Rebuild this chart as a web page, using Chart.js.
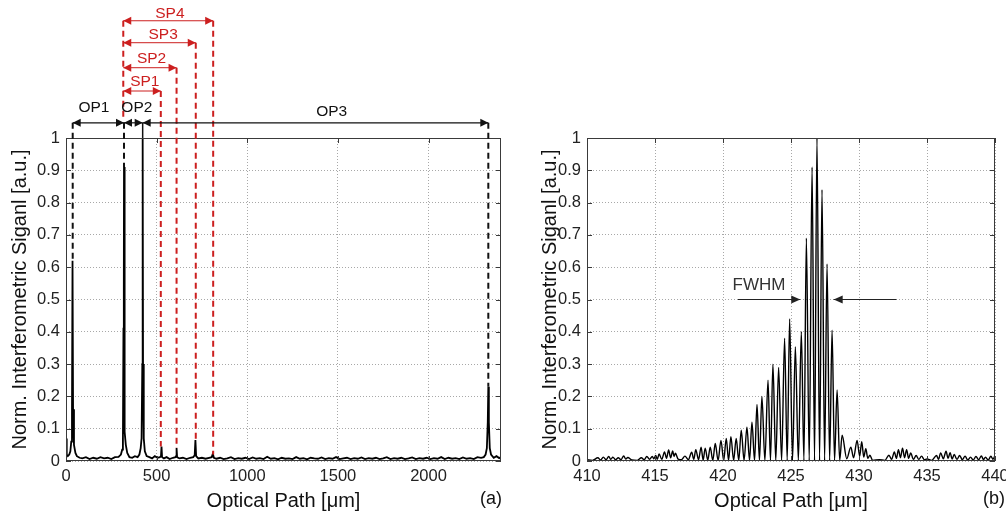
<!DOCTYPE html>
<html><head><meta charset="utf-8">
<script src="https://cdn.jsdelivr.net/npm/chart.js@4/dist/chart.umd.min.js"></script>
<style>
html,body{margin:0;padding:0;background:#fff;width:1006px;height:517px;overflow:hidden}
#ca{position:absolute;left:0;top:0}
#cb{position:absolute;left:520px;top:0}
</style></head><body>
<canvas id="ca" width="520" height="517"></canvas>
<canvas id="cb" width="486" height="517"></canvas>
<script>
// ---------- DATA ----------
const leftX = [
0,4,10,18,24,29,33,36,39,44,
52,60,75,90,110,130,150,170,190,210,
230,250,270,290,303,310,314,317,319,320,
322,325,330,338,350,365,380,395,405,412,
417,421,423,425,429,435,445,460,475,490,
505,518,524,527,530,540,555,572,590,604,
607,610,613,625,645,665,685,702,710,714,
718,730,750,770,790,804,810,816,830,850,
870,890,910,930,950,970,990,1010,1030,1050,
1070,1090,1110,1130,1150,1170,1190,1210,1230,1250,
1270,1290,1310,1330,1350,1370,1390,1410,1430,1450,
1470,1490,1510,1530,1550,1570,1590,1610,1630,1650,
1670,1690,1710,1730,1750,1770,1790,1810,1830,1850,
1870,1890,1910,1930,1950,1970,1990,2010,2030,2050,
2070,2090,2110,2130,2150,2170,2190,2210,2230,2250,
2270,2290,2305,2315,2322,2327,2330,2333,2338,2345,
2360,2375,2390,2400];
const leftY = [
0.07,0.02,0.015,0.02,0.03,0.06,0.15,0.62,0.16,0.05,
0.025,0.015,0.01,0.008,0.012,0.006,0.01,0.007,0.012,0.008,
0.01,0.006,0.012,0.013,0.02,0.035,0.06,0.41,0.53,0.91,
0.5,0.09,0.05,0.025,0.012,0.01,0.015,0.012,0.02,0.04,
0.07,0.3,1.0,0.3,0.07,0.03,0.015,0.012,0.008,0.015,
0.01,0.012,0.015,0.045,0.012,0.008,0.012,0.006,0.01,0.012,
0.015,0.04,0.012,0.008,0.01,0.006,0.01,0.012,0.018,0.065,
0.015,0.008,0.01,0.007,0.01,0.012,0.022,0.01,0.007,0.01,
0.006,0.008,0.012,0.006,0.009,0.007,0.01,0.006,0.011,0.007,
0.009,0.006,0.013,0.007,0.009,0.005,0.01,0.007,0.008,0.006,
0.012,0.007,0.009,0.005,0.01,0.008,0.007,0.011,0.006,0.009,
0.007,0.012,0.006,0.008,0.01,0.006,0.009,0.007,0.011,0.006,
0.009,0.007,0.01,0.006,0.008,0.012,0.006,0.009,0.007,0.01,
0.006,0.008,0.011,0.006,0.009,0.007,0.01,0.006,0.009,0.007,
0.012,0.006,0.01,0.007,0.009,0.006,0.011,0.007,0.009,0.006,
0.012,0.01,0.012,0.02,0.04,0.12,0.23,0.12,0.04,0.02,
0.01,0.015,0.009,0.012];

const rightX = [
410.0,410.4,410.8,411.0,411.2,411.4,411.6,411.75,411.9,412.1,
412.3,412.5,412.7,412.85,413.0,413.3,413.7,414.0,414.2,414.4,
414.6,414.8,414.92,415.05,415.17,415.3,415.5,415.7,415.85,416.0,
416.15,416.3,416.4,416.5,416.7,416.95,417.2,417.45,417.7,417.85,
418.0,418.2,
418.39,418.54,418.69,418.88,419.06,419.25,419.43,419.64,419.85,420.05,
420.24,420.41,420.58,420.78,420.97,421.16,421.34,421.55,421.76,421.95,
422.13,422.32,422.50,422.68,422.86,423.08,423.31,423.49,423.67,423.88,
424.09,424.31,424.53,424.72,424.90,425.11,425.32,425.54,425.76,425.95,
426.13,426.34,426.55,426.73,426.91,427.10,427.28,427.47,427.65,427.84,
428.02,428.20,428.39,428.58,428.76,
429.1,429.4,429.6,429.86,430.05,430.2,430.35,430.5,430.65,430.8,
431.0,431.5,431.9,432.2,432.4,432.6,432.75,432.9,433.05,433.2,
433.35,433.5,433.65,433.8,434.0,434.2,434.4,434.6,434.8,435.0,
435.35,435.7,435.85,436.0,436.2,436.4,436.55,436.7,436.85,437.0,
437.2,437.4,437.6,437.8,438.0,438.2,438.4,438.6,438.8,439.0,
439.15,439.3,439.5,439.7,439.85,440.0];
const rightY = [
0.004,0.002,0.010,0.003,0.012,0.004,0.014,0.005,0.012,0.004,
0.010,0.004,0.016,0.006,0.011,0.003,0.002,0.010,0.004,0.014,
0.005,0.014,0.007,0.017,0.005,0.022,0.005,0.028,0.008,0.034,
0.010,0.031,0.014,0.024,0.006,0.004,0.015,0.004,0.027,0.005,
0.035,0.004,
0.043,0.003,0.040,0.003,0.043,0.002,0.054,0.002,0.064,0.002,
0.070,0.002,0.075,0.002,0.070,0.002,0.095,0.002,0.105,0.002,
0.120,0.001,0.175,0.001,0.200,0.001,0.250,0.001,0.300,0.001,
0.290,0.001,0.380,0.001,0.440,0.001,0.354,0.001,0.400,0.001,
0.690,0.001,0.910,0.001,1.000,0.001,0.840,0.001,0.610,0.001,
0.405,0.001,0.220,0.002,0.080,
0.007,0.043,0.010,0.064,0.015,0.060,0.012,0.038,0.008,0.018,
0.002,0.004,0.002,0.018,0.005,0.028,0.008,0.035,0.010,0.040,
0.010,0.035,0.008,0.025,0.005,0.017,0.005,0.015,0.004,0.006,
0.002,0.017,0.005,0.025,0.007,0.030,0.008,0.026,0.006,0.020,
0.005,0.017,0.004,0.015,0.003,0.012,0.003,0.014,0.004,0.016,
0.004,0.012,0.003,0.015,0.005,0.018];

const xTicksA = [0,500,1000,1500,2000];
const xTicksB = [410,415,420,425,430,435,440];
const yTicks = [0,0.1,0.2,0.3,0.4,0.5,0.6,0.7,0.8,0.9,1];

// annotation config (data units)
const opArrows = [
  {from:37, to:320, y:1.047, label:'OP1', lx:154, ly:1.093},
  {from:320, to:423, y:1.047, label:'OP2', lx:391, ly:1.093},
  {from:423, to:2330, y:1.047, label:'OP3', lx:1466, ly:1.082}
];
const spArrows = [
  {from:316, to:523, y:1.1455, label:'SP1', lx:435, ly:1.174},
  {from:316, to:610, y:1.2176, label:'SP2', lx:472, ly:1.247},
  {from:316, to:716, y:1.295, label:'SP3', lx:536, ly:1.319},
  {from:316, to:812, y:1.363, label:'SP4', lx:573, ly:1.386}
];
const blackDash = [
  {x:37, y1:1.047, y2:0.62}, {x:320, y1:1.047, y2:0.91}, {x:2330, y1:1.047, y2:0.23}
];
const blackSolid = [{x:423, y1:1.047, y2:1.0}];
const redDash = [
  {x:316, y1:1.363, y2:1.06}, {x:523, y1:1.1455, y2:0.045}, {x:610, y1:1.2176, y2:0.04},
  {x:716, y1:1.295, y2:0.065}, {x:812, y1:1.363, y2:0.02}
];
const fwhm = {label:'FWHM', lx:420.7, ly:0.545, y:0.5, l1:421.1, l2:425.68, r1:432.75, r2:428.14};

// ---------- STYLE ----------
const FONT = "'Liberation Sans', Arial, sans-serif";
const RED = '#cc1f1f';

function head(ctx, xt, y, dir, len, hw){
  ctx.beginPath(); ctx.moveTo(xt, y); ctx.lineTo(xt - dir*len, y - hw); ctx.lineTo(xt - dir*len, y + hw); ctx.closePath(); ctx.fill();
}
function dblArrow(ctx, x1, x2, y, color, lw){
  ctx.strokeStyle = color; ctx.fillStyle = color; ctx.lineWidth = lw; ctx.setLineDash([]);
  ctx.beginPath(); ctx.moveTo(x1, y); ctx.lineTo(x2, y); ctx.stroke();
  head(ctx, x1, y, -1, 8, 4); head(ctx, x2, y, 1, 8, 4);
}
function vline(ctx, x, y1, y2, color, lw, dash){
  ctx.strokeStyle = color; ctx.lineWidth = lw; ctx.setLineDash(dash);
  ctx.beginPath(); ctx.moveTo(x, y1); ctx.lineTo(x, y2); ctx.stroke();
}

const framePlugin = {
  id: 'frame',
  afterDatasetsDraw(chart){
    const {ctx, chartArea:a, scales:{x, y}} = chart;
    ctx.save();
    ctx.strokeStyle = '#3a3a3a'; ctx.lineWidth = 1; ctx.setLineDash([]);
    ctx.strokeRect(Math.round(a.left)+0.5, Math.round(a.top)+0.5, Math.round(a.right-a.left)-1, Math.round(a.bottom-a.top)-1);
    ctx.beginPath();
    x.ticks.forEach(t => {
      const px = Math.round(x.getPixelForValue(t.value)) + 0.5;
      ctx.moveTo(px, a.bottom); ctx.lineTo(px, a.bottom - 5);
      ctx.moveTo(px, a.top); ctx.lineTo(px, a.top + 5);
    });
    y.ticks.forEach(t => {
      const py = Math.round(y.getPixelForValue(t.value)) + 0.5;
      ctx.moveTo(a.left, py); ctx.lineTo(a.left + 5, py);
      ctx.moveTo(a.right, py); ctx.lineTo(a.right - 5, py);
    });
    ctx.stroke();
    ctx.restore();
  }
};

const annotA = {
  id: 'annotA',
  afterDraw(chart){
    const {ctx, chartArea:a, scales:{x, y}} = chart;
    ctx.save();
    blackDash.forEach(d => vline(ctx, x.getPixelForValue(d.x), y.getPixelForValue(d.y1), y.getPixelForValue(d.y2), '#111', 2, [6,4]));
    blackSolid.forEach(d => vline(ctx, x.getPixelForValue(d.x), y.getPixelForValue(d.y1), y.getPixelForValue(d.y2), '#111', 1.5, []));
    redDash.forEach(d => vline(ctx, x.getPixelForValue(d.x), y.getPixelForValue(d.y1), y.getPixelForValue(d.y2), RED, 2, [6,4]));
    ctx.font = '15.5px ' + FONT; ctx.textAlign = 'center'; ctx.textBaseline = 'middle';
    opArrows.forEach(o => {
      dblArrow(ctx, x.getPixelForValue(o.from), x.getPixelForValue(o.to), y.getPixelForValue(o.y), '#111', 1.2);
      ctx.fillStyle = '#111'; ctx.fillText(o.label, x.getPixelForValue(o.lx), y.getPixelForValue(o.ly));
    });
    spArrows.forEach(o => {
      dblArrow(ctx, x.getPixelForValue(o.from), x.getPixelForValue(o.to), y.getPixelForValue(o.y), RED, 1);
      ctx.fillStyle = RED; ctx.fillText(o.label, x.getPixelForValue(o.lx), y.getPixelForValue(o.ly));
    });
    ctx.fillStyle = '#111'; ctx.font = '18px ' + FONT; ctx.textAlign = 'left';
    ctx.fillText('(a)', a.right - 21, a.bottom + 38);
    ctx.restore();
  }
};

const annotB = {
  id: 'annotB',
  afterDraw(chart){
    const {ctx, chartArea:a, scales:{x, y}} = chart;
    ctx.save();
    ctx.fillStyle = '#333'; ctx.font = '17px ' + FONT; ctx.textAlign = 'left'; ctx.textBaseline = 'middle';
    ctx.fillText(fwhm.label, x.getPixelForValue(fwhm.lx), y.getPixelForValue(fwhm.ly));
    const py = y.getPixelForValue(fwhm.y);
    ctx.strokeStyle = '#222'; ctx.fillStyle = '#222'; ctx.lineWidth = 1; ctx.setLineDash([]);
    const l1 = x.getPixelForValue(fwhm.l1), l2 = x.getPixelForValue(fwhm.l2);
    const r1 = x.getPixelForValue(fwhm.r1), r2 = x.getPixelForValue(fwhm.r2);
    ctx.beginPath(); ctx.moveTo(l1, py); ctx.lineTo(l2, py); ctx.moveTo(r1, py); ctx.lineTo(r2, py); ctx.stroke();
    head(ctx, l2, py, 1, 9, 4); head(ctx, r2, py, -1, 9, 4);
    ctx.fillStyle = '#111'; ctx.font = '18px ' + FONT;
    ctx.fillText('(b)', a.right - 12, a.bottom + 38);
    ctx.restore();
  }
};

function makeScales(xmin, xmax, xticks, yWidth, yTitlePad){
  const tickFont = {family: FONT, size: 16.5};
  const titleFont = {family: FONT, size: 20};
  return {
    x: {
      type: 'linear', min: xmin, max: xmax,
      afterBuildTicks: s => { s.ticks = xticks.map(v => ({value: v})); },
      afterFit: s => { s.height = 56; s.paddingLeft = 0; s.paddingRight = 0; },
      ticks: {font: tickFont, color: '#222', padding: 6, maxRotation: 0, autoSkip: false, callback: v => String(v)},
      grid: {color: '#a8a8a8', lineWidth: 1, drawTicks: false},
      border: {display: false, dash: [1, 2]},
      title: {display: true, text: 'Optical Path [μm]', font: titleFont, color: '#111', padding: {top: 0, bottom: 4}}
    },
    y: {
      type: 'linear', min: 0, max: 1,
      afterBuildTicks: s => { s.ticks = yTicks.map(v => ({value: v})); },
      afterFit: s => { s.width = yWidth; s.paddingTop = 0; s.paddingBottom = 0; },
      ticks: {font: tickFont, color: '#222', padding: 6, autoSkip: false, callback: v => String(Math.round(v*10)/10)},
      grid: {color: '#a8a8a8', lineWidth: 1, drawTicks: false},
      border: {display: false, dash: [1, 2]},
      title: {display: true, text: 'Norm. Interferometric Siganl [a.u.]', font: titleFont, color: '#111', padding: {top: yTitlePad, bottom: 0}}
    }
  };
}

const common = {
  responsive: false, animation: false, events: [],
  plugins: {legend: {display: false}, tooltip: {enabled: false}}
};

new Chart(document.getElementById('ca'), {
  type: 'line',
  data: {datasets: [{data: leftX.map((v, i) => ({x: v, y: leftY[i]})), borderColor: '#000', borderWidth: 1.8, pointRadius: 0, tension: 0}]},
  options: Object.assign({}, common, {
    layout: {padding: {left: 0, right: 19, top: 138, bottom: 0}},
    scales: makeScales(0, 2400, xTicksA, 66, 8)
  }),
  plugins: [framePlugin, annotA]
});

new Chart(document.getElementById('cb'), {
  type: 'line',
  data: {datasets: [{data: rightX.map((v, i) => ({x: v, y: rightY[i]})), borderColor: '#000', borderWidth: 1.4, pointRadius: 0, cubicInterpolationMode: 'monotone'}]},
  options: Object.assign({}, common, {
    layout: {padding: {left: 0, right: 11, top: 138, bottom: 0}},
    scales: makeScales(410, 440, xTicksB, 67, 18)
  }),
  plugins: [framePlugin, annotB]
});
</script>
</body></html>
